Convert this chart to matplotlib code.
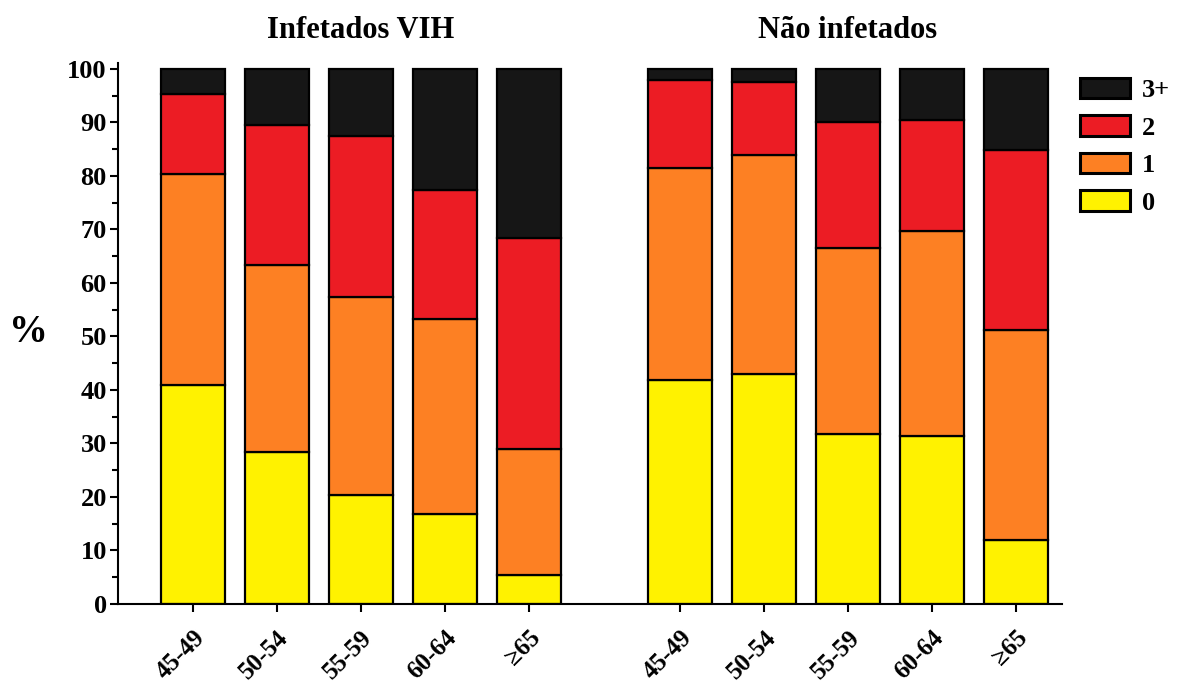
import matplotlib.pyplot as plt
import numpy as np

plt.rcParams['font.family'] = ['Liberation Serif', 'DejaVu Serif']
plt.rcParams['font.weight'] = 'bold'

# age groups for each panel
ages = ['45-49', '50-54', '55-59', '60-64', '≥65']

# infetados VIH - shares of each comorbidity count (%)
vih_0 = [40.9, 28.4, 20.4, 16.8, 5.4]
vih_1 = [39.5, 35.0, 37.0, 36.5, 23.6]
vih_2 = [14.9, 26.1, 30.1, 24.1, 39.4]
vih_3 = [4.7, 10.5, 12.5, 22.6, 31.6]

# nao infetados
nao_0 = [41.9, 43.0, 31.8, 31.4, 12.0]
nao_1 = [39.6, 40.9, 34.7, 38.3, 39.2]
nao_2 = [16.4, 13.7, 23.6, 20.8, 33.7]
nao_3 = [2.1, 2.4, 9.9, 9.5, 15.1]

cats = ['0', '1', '2', '3+']
colors = ['#fff200', '#fd8023', '#ec1c24', '#161616']

x1 = np.arange(5)
x2 = np.arange(5) + 5.8
w = 0.76

fig = plt.figure(figsize=(11.79, 6.91), dpi=100)
ax = fig.add_axes([0.100, 0.126, 0.801, 0.786])

handles = []
for xs, series in [(x1, [vih_0, vih_1, vih_2, vih_3]), (x2, [nao_0, nao_1, nao_2, nao_3])]:
    bottom = np.zeros(5)
    hs = []
    for vals, col, lab in zip(series, colors, cats):
        b = ax.bar(xs, vals, w, bottom=bottom, color=col, edgecolor='black',
                   linewidth=1.6, label=lab)
        bottom = bottom + np.array(vals)
        hs.append(b)
    handles = hs

ax.set_xlim(-0.89, 10.35)
ax.set_xticks(list(x1) + list(x2))
ax.set_xticklabels(ages + ages, rotation=45, ha='right', rotation_mode='anchor',
                   fontsize=18, fontweight='bold')
ax.set_yticks(np.arange(0, 101, 10))
ax.set_yticks(np.arange(5, 100, 10), minor=True)
ax.tick_params(axis='y', labelsize=19, width=1.5, length=6, direction='out', pad=2)
ax.tick_params(axis='y', which='minor', width=1.5, length=4)
ax.tick_params(axis='x', width=1.5, length=6, pad=10)
for lbl in ax.get_yticklabels():
    lbl.set_fontweight('bold')

ax.spines['top'].set_visible(False)
ax.spines['right'].set_visible(False)
ax.spines['left'].set_linewidth(1.5)
ax.spines['bottom'].set_linewidth(1.5)
ax.spines['left'].set_bounds(0, 101)
ax.set_ylim(0, 101.5)

ax.set_ylabel('%', rotation=0, fontsize=28, fontweight='bold', labelpad=28, va='center')

ax.text(2, 1.055, 'Infetados VIH', transform=ax.get_xaxis_transform(), ha='center',
        va='center', fontsize=22, fontweight='bold')
ax.text(7.8, 1.055, 'Não infetados', transform=ax.get_xaxis_transform(), ha='center',
        va='center', fontsize=22, fontweight='bold')

leg = ax.legend(handles[::-1], cats[::-1], loc='upper left',
                bbox_to_anchor=(1080 / 1179, 1 - 78 / 691), bbox_transform=fig.transFigure,
                frameon=False, handlelength=1.9, handleheight=0.8, handletextpad=0.45,
                borderpad=0, borderaxespad=0, labelspacing=0.5,
                prop={'weight': 'bold', 'size': 19})
for p in leg.get_patches():
    p.set_linewidth(2.2)

fig.savefig('out.png', dpi=100)
